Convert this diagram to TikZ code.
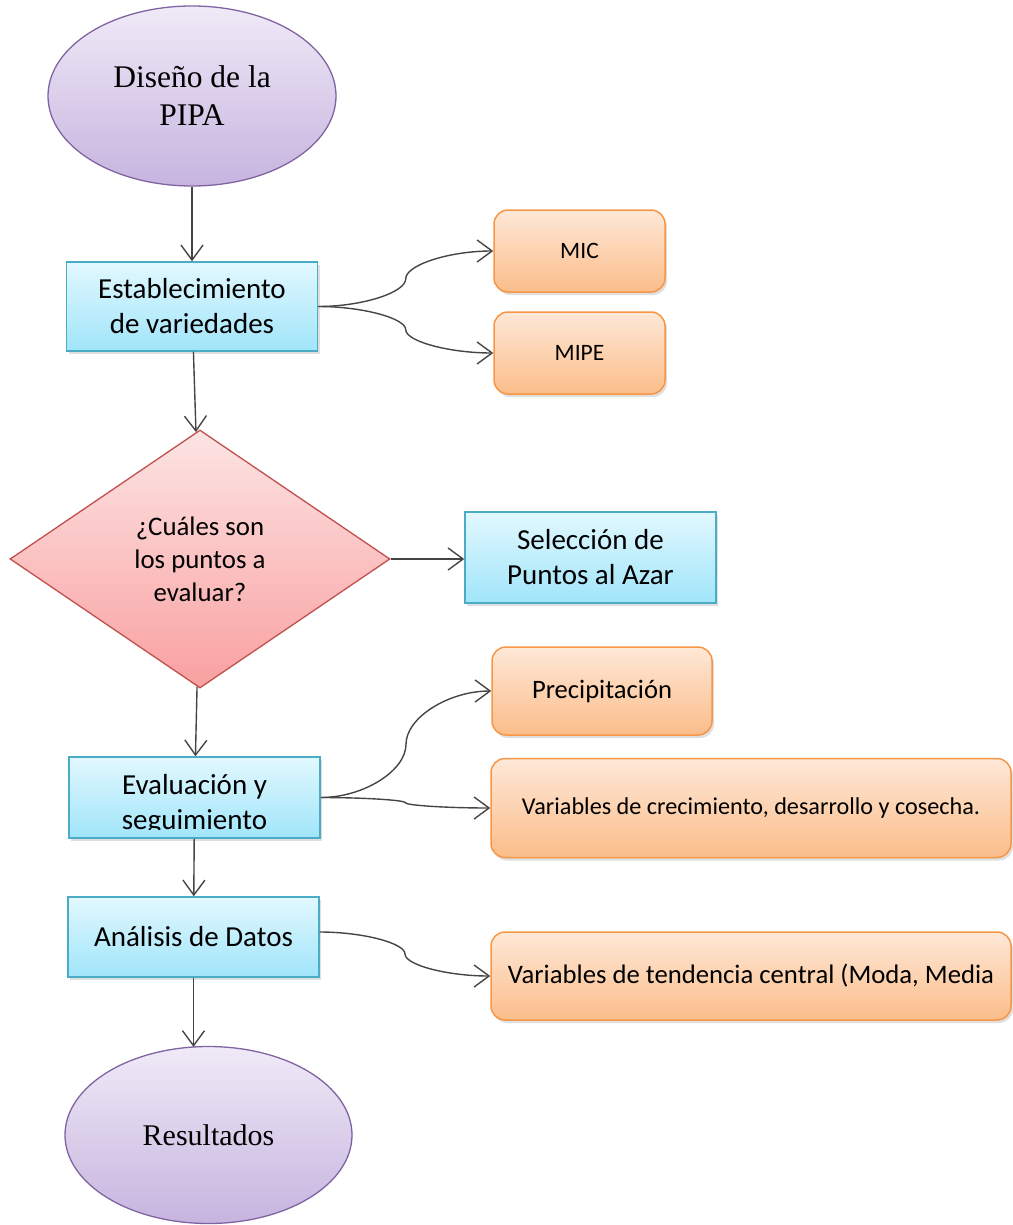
\documentclass[tikz,border=0pt]{standalone}
\usepackage{fontspec}
\setmainfont{Liberation Serif}
\newfontfamily\calibri{Carlito}
\usepackage{tikz}
\usetikzlibrary{arrows.meta,shapes.geometric,shadows,calc}

\definecolor{lilaA}{HTML}{F0EAF7}
\definecolor{lilaB}{HTML}{C6B4DF}
\definecolor{lilaBorde}{HTML}{8064A2}
\definecolor{azulA}{HTML}{E2F8FE}
\definecolor{azulB}{HTML}{A0E5FA}
\definecolor{azulBorde}{HTML}{4BACC6}
\definecolor{naranjaA}{HTML}{FEE8D7}
\definecolor{naranjaB}{HTML}{FBBD8A}
\definecolor{naranjaBorde}{HTML}{F79646}
\definecolor{rosaA}{HTML}{FDE4E4}
\definecolor{rosaB}{HTML}{F9A0A0}
\definecolor{rosaBorde}{HTML}{C0504D}
\definecolor{gris}{HTML}{454545}

% conector curvo (dos tramos, tangente vertical en el medio)
\newcommand{\curva}[2]{%
	\draw[flecha] let \p1=(#1), \p2=(#2) in
		(\p1) .. controls ({(3*\x1+\x2)/4},\y1) and ({(\x1+\x2)/2},{(3*\y1+\y2)/4})
		.. ({(\x1+\x2)/2},{(\y1+\y2)/2})
		.. controls ({(\x1+\x2)/2},{(\y1+3*\y2)/4}) and ({(\x1+3*\x2)/4},\y2) .. (\p2);}

\begin{document}
\begin{tikzpicture}[x=1pt,y=-1pt,
		flecha/.style={draw=gris, line width=1.4pt, -{Straight Barb[length=15pt,width=22pt,line width=1.4pt]}},
		sombra/.style={drop shadow={shadow xshift=2pt, shadow yshift=-3pt, opacity=.25}},
		elipse/.style={ellipse, draw=lilaBorde, line width=1.3pt, top color=lilaA, bottom color=lilaB,
			minimum width=288pt, minimum height=180pt, align=center, font=\fontsize{30}{38}\selectfont},
		caja/.style={rectangle, draw=azulBorde, line width=1.5pt, top color=azulA, bottom color=azulB, sombra,
			minimum width=251pt, align=center, font=\calibri\fontsize{29}{35}\selectfont},
		opcion/.style={rectangle, rounded corners=14pt, draw=naranjaBorde, line width=1.5pt,
			top color=naranjaA, bottom color=naranjaB, sombra, align=center},
		decision/.style={diamond, draw=rosaBorde, line width=1.3pt, top color=rosaA, bottom color=rosaB,
			minimum width=380pt, minimum height=258pt, inner sep=0pt, align=center,
			font=\calibri\fontsize{26.8}{33}\selectfont}]
	\useasboundingbox (0,0) rectangle (1012,1225);

	% columna principal
	\node[elipse, font=\fontsize{31.5}{38}\selectfont] (disenio) at (192,96) {Diseño de la\\PIPA};
	\node[caja, minimum height=89pt] (establec) at (192,306.5) {Establecimiento\\de variedades};
	\node[decision] (puntos) at (200,559) {¿Cuáles son\\los puntos a\\evaluar?};
	\node[caja, minimum height=81pt] (eval) at (194.5,797.5) {};
	\begin{scope}
		\clip (eval.north west) rectangle ([yshift=9pt]eval.south east);
		\node[align=center, font=\calibri\fontsize{29}{35}\selectfont] (evaltxt) at (194.5,804) {Evaluación y\\seguimiento};
	\end{scope}
	\node[caja, minimum height=80pt] (analisis) at (193.5,937) {Análisis de Datos};
	\node[elipse, minimum width=287pt, minimum height=177pt] (result) at (208.5,1135) {Resultados};

	% cajas laterales
	\node[opcion, minimum width=171pt, minimum height=82pt, font=\calibri\fontsize{23.5}{28}\selectfont] (mic) at (579.5,251) {MIC};
	\node[opcion, minimum width=171pt, minimum height=82pt, font=\calibri\fontsize{23.5}{28}\selectfont] (mipe) at (579.5,353) {MIPE};
	\node[caja, minimum height=91pt] (azar) at (590.5,557.5) {Selección de\\Puntos al Azar};
	\node[opcion, minimum width=220pt, minimum height=88pt, font=\calibri\fontsize{26.6}{30}\selectfont] (precip) at (602,691) {Precipitación};
	\node[opcion, minimum width=520pt, minimum height=99pt, font=\calibri\fontsize{24.2}{28}\selectfont] (crec) at (751,808) {Variables de crecimiento, desarrollo y cosecha.};
	\node[opcion, minimum width=520pt, minimum height=88pt, font=\calibri\fontsize{26.7}{30}\selectfont] (tend) at (751,976) {Variables de tendencia central (Moda, Media};

	% flechas
	\draw[flecha] (disenio) -- (establec);
	\draw[flecha] (establec) -- (puntos);
	\draw[flecha] (puntos) -- (eval);
	\draw[flecha] (eval) -- (analisis);
	\draw[flecha] (analisis.south) -- ([yshift=-1pt]analisis.south |- result.north);
	\draw[flecha] (puntos.east) -- (puntos.east -| azar.west);
	\curva{establec.east}{mic.west}
	\curva{establec.east}{mipe.west}
	\curva{eval.east}{precip.west}
	\curva{eval.east}{crec.west}
	\curva{[yshift=5pt]analisis.east}{tend.west}
\end{tikzpicture}
\end{document}
